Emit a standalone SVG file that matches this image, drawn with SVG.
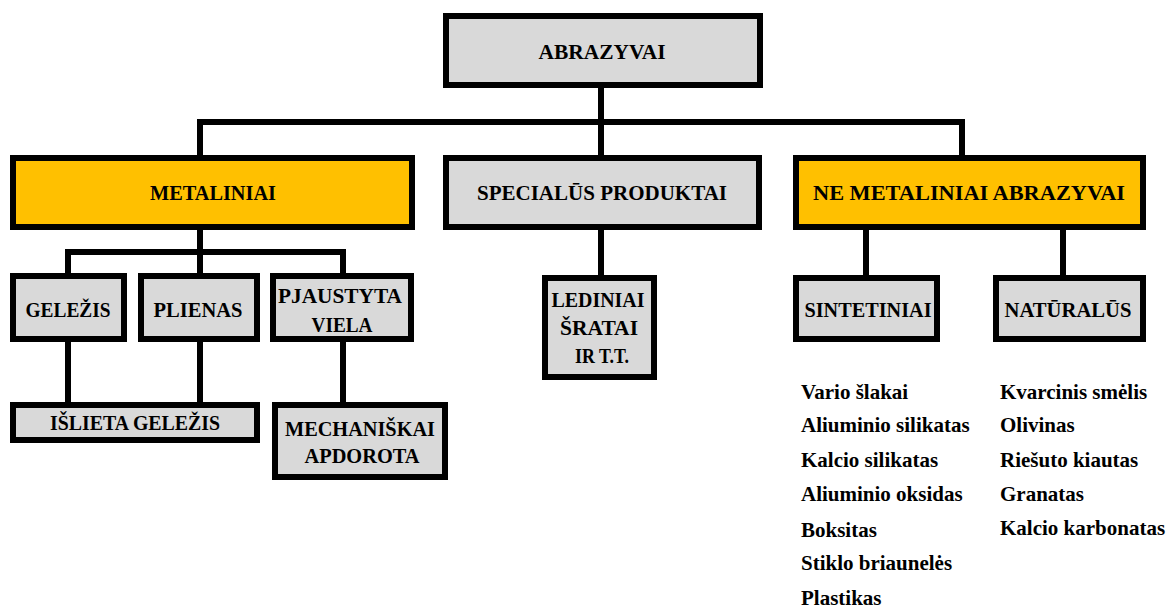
<svg xmlns="http://www.w3.org/2000/svg" width="1176" height="608" viewBox="0 0 1176 608">
<style>
.box{stroke:#000;stroke-width:6}
.g{fill:#d9d9d9}
.o{fill:#ffc000}
.lbl{font-family:"Liberation Serif","Times New Roman",serif;font-weight:bold;font-size:22px;fill:#000;text-anchor:middle}
.lst{font-family:"Liberation Serif","Times New Roman",serif;font-weight:bold;font-size:21px;fill:#000}
.con{fill:none;stroke:#000;stroke-width:6}
</style>
<rect width="1176" height="608" fill="#fff"/>
<g id="connectors" class="con">
<path d="M601 88V155"/>
<path d="M200 155V122H962V155"/>
<path d="M200 230V273"/>
<path d="M68 273V252H343V273"/>
<path d="M68 342V402"/>
<path d="M200 342V402"/>
<path d="M343 342V402"/>
<path d="M601 230V275"/>
<path d="M866 230V275"/>
<path d="M1063 230V275"/>
</g>
<g id="abrazyvai"><rect class="box g" x="446" y="16" width="314" height="69"/><text class="lbl" x="602" y="59" textLength="127" lengthAdjust="spacingAndGlyphs">ABRAZYVAI</text></g>
<g id="metaliniai"><rect class="box o" x="13" y="158" width="399" height="69"/><text class="lbl" x="213" y="200" textLength="126" lengthAdjust="spacingAndGlyphs">METALINIAI</text></g>
<g id="specialus"><rect class="box g" x="446" y="158" width="313" height="69"/><text class="lbl" x="602" y="200" textLength="250" lengthAdjust="spacingAndGlyphs">SPECIALŪS PRODUKTAI</text></g>
<g id="nemetaliniai"><rect class="box o" x="796" y="158" width="347" height="69"/><text class="lbl" x="969" y="200" textLength="312" lengthAdjust="spacingAndGlyphs">NE METALINIAI ABRAZYVAI</text></g>
<g id="gelezis"><rect class="box g" x="13" y="276" width="111" height="63"/><text class="lbl" x="68" y="317" textLength="85" lengthAdjust="spacingAndGlyphs">GELEŽIS</text></g>
<g id="plienas"><rect class="box g" x="141" y="276" width="116" height="63"/><text class="lbl" x="198" y="317" textLength="89" lengthAdjust="spacingAndGlyphs">PLIENAS</text></g>
<g id="pjaustyta"><rect class="box g" x="273" y="276" width="138" height="63"/><text class="lbl" x="340" y="303" textLength="124" lengthAdjust="spacingAndGlyphs">PJAUSTYTA</text><text class="lbl" x="342" y="332" textLength="61" lengthAdjust="spacingAndGlyphs">VIELA</text></g>
<g id="islieta"><rect class="box g" x="13" y="405" width="244" height="35"/><text class="lbl" x="135" y="430" textLength="170" lengthAdjust="spacingAndGlyphs">IŠLIETA GELEŽIS</text></g>
<g id="mechaniskai"><rect class="box g" x="275" y="405" width="170" height="72"/><text class="lbl" x="360" y="436" textLength="150" lengthAdjust="spacingAndGlyphs">MECHANIŠKAI</text><text class="lbl" x="362" y="463" textLength="115" lengthAdjust="spacingAndGlyphs">APDOROTA</text></g>
<g id="lediniai"><rect class="box g" x="545" y="278" width="109" height="99"/><text class="lbl" x="598" y="307" textLength="93" lengthAdjust="spacingAndGlyphs">LEDINIAI</text><text class="lbl" x="599" y="335" textLength="78" lengthAdjust="spacingAndGlyphs">ŠRATAI</text><text class="lbl" x="602" y="363" textLength="54" lengthAdjust="spacingAndGlyphs">IR T.T.</text></g>
<g id="sintetiniai"><rect class="box g" x="796" y="278" width="141" height="61"/><text class="lbl" x="868" y="317" textLength="127" lengthAdjust="spacingAndGlyphs">SINTETINIAI</text></g>
<g id="naturalus"><rect class="box g" x="996" y="278" width="147" height="61"/><text class="lbl" x="1068" y="317" textLength="127" lengthAdjust="spacingAndGlyphs">NATŪRALŪS</text></g>
<g id="list-sintetiniai" class="lst">
<text x="801" y="399">Vario šlakai</text>
<text x="801" y="432">Aliuminio silikatas</text>
<text x="801" y="467">Kalcio silikatas</text>
<text x="801" y="501">Aliuminio oksidas</text>
<text x="801" y="537">Boksitas</text>
<text x="801" y="570">Stiklo briaunelės</text>
<text x="801" y="605">Plastikas</text>
</g>
<g id="list-naturalus" class="lst">
<text x="1000" y="399">Kvarcinis smėlis</text>
<text x="1000" y="432">Olivinas</text>
<text x="1000" y="467">Riešuto kiautas</text>
<text x="1000" y="501">Granatas</text>
<text x="1000" y="535">Kalcio karbonatas</text>
</g>
</svg>
